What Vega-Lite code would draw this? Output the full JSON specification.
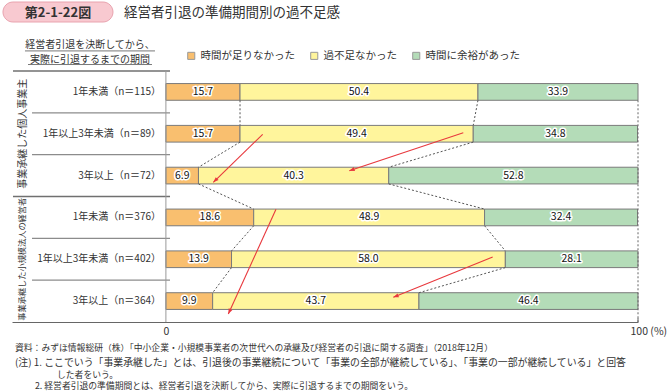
{
  "$schema": "https://vega.github.io/schema/vega-lite/v6.json",
  "width": 626,
  "height": 251,
  "autosize": {"type": "none"},
  "padding": {"left": 12, "top": 71, "right": 32, "bottom": 70},
  "background": "white",
  "config": {"font": "Noto Sans CJK JP", "view": {"stroke": null}, "scale": {"continuousPadding": 0}},
  "datasets": {
    "bars": [
      {"row": 1, "cat": "時間が足りなかった", "ord": 1, "value": 15.7},
      {"row": 1, "cat": "過不足なかった", "ord": 2, "value": 50.4},
      {"row": 1, "cat": "時間に余裕があった", "ord": 3, "value": 33.9},
      {"row": 2, "cat": "時間が足りなかった", "ord": 1, "value": 15.7},
      {"row": 2, "cat": "過不足なかった", "ord": 2, "value": 49.4},
      {"row": 2, "cat": "時間に余裕があった", "ord": 3, "value": 34.8},
      {"row": 3, "cat": "時間が足りなかった", "ord": 1, "value": 6.9},
      {"row": 3, "cat": "過不足なかった", "ord": 2, "value": 40.3},
      {"row": 3, "cat": "時間に余裕があった", "ord": 3, "value": 52.8},
      {"row": 4, "cat": "時間が足りなかった", "ord": 1, "value": 18.6},
      {"row": 4, "cat": "過不足なかった", "ord": 2, "value": 48.9},
      {"row": 4, "cat": "時間に余裕があった", "ord": 3, "value": 32.4},
      {"row": 5, "cat": "時間が足りなかった", "ord": 1, "value": 13.9},
      {"row": 5, "cat": "過不足なかった", "ord": 2, "value": 58.0},
      {"row": 5, "cat": "時間に余裕があった", "ord": 3, "value": 28.1},
      {"row": 6, "cat": "時間が足りなかった", "ord": 1, "value": 9.9},
      {"row": 6, "cat": "過不足なかった", "ord": 2, "value": 43.7},
      {"row": 6, "cat": "時間に余裕があった", "ord": 3, "value": 46.4}
    ],
    "connectors": [
      {"from": 1, "to": 2, "a": 15.7, "b": 15.7},
      {"from": 1, "to": 2, "a": 66.1, "b": 65.1},
      {"from": 2, "to": 3, "a": 15.7, "b": 6.9},
      {"from": 2, "to": 3, "a": 65.1, "b": 47.2},
      {"from": 3, "to": 4, "a": 6.9, "b": 18.6},
      {"from": 3, "to": 4, "a": 47.2, "b": 67.5},
      {"from": 4, "to": 5, "a": 18.6, "b": 13.9},
      {"from": 4, "to": 5, "a": 67.5, "b": 71.9},
      {"from": 5, "to": 6, "a": 13.9, "b": 9.9},
      {"from": 5, "to": 6, "a": 71.9, "b": 53.6}
    ],
    "arrows": [
      {"sx": 20.5, "sy": 2.013, "ex": 10.04, "ey": 3.161},
      {"sx": 62.99, "sy": 1.975, "ex": 38.85, "ey": 2.883},
      {"sx": 23.32, "sy": 3.806, "ex": 13.22, "ey": 6.309},
      {"sx": 69.22, "sy": 4.946, "ex": 48.17, "ey": 5.91}
    ],
    "rows": [
      {"row": 1, "label": "1年未満（n＝115）"},
      {"row": 2, "label": "1年以上3年未満（n＝89）"},
      {"row": 3, "label": "3年以上（n＝72）"},
      {"row": 4, "label": "1年未満（n＝376）"},
      {"row": 5, "label": "1年以上3年未満（n＝402）"},
      {"row": 6, "label": "3年以上（n＝364）"}
    ],
    "groups": [
      {"row": 2, "g": 1, "label": "事業承継した個人事業主"},
      {"row": 5, "g": 2, "label": "事業承継した小規模法人の経営者"}
    ],
    "inner": [{"r": 1.5}, {"r": 2.5}, {"r": 4.5}, {"r": 5.5}],
    "outer": [{"r": 0.5}, {"r": 3.5}],
    "one": [{"k": 1}]
  },
  "layer": [
    {
      "data": {"name": "bars"},
      "transform": [
        {"stack": "value", "groupby": ["row"], "sort": [{"field": "ord"}], "as": ["x0", "x1"]}
      ],
      "mark": {"type": "bar", "height": 16.7, "stroke": "#7a7a7a", "strokeWidth": 1},
      "encoding": {
        "x": {
          "field": "x0", "type": "quantitative",
          "scale": {"domain": [-32.6, 100], "nice": false, "zero": false, "padding": 0},
          "axis": {
            "values": [0, 100], "ticks": false, "grid": false, "title": null,
            "domainColor": "#666666", "domainWidth": 1,
            "labelExpr": "datum.value == 100 ? '100 (%)' : '0'",
            "labelFontSize": 10.5, "labelColor": "#333333", "labelPadding": 4,
            "labelFlush": false, "labelOverlap": false,
            "labelAlign": {"condition": {"test": "datum.value == 100", "value": "left"}, "value": "center"},
            "labelOffset": {"condition": {"test": "datum.value == 100", "value": -8}, "value": 0}
          }
        },
        "x2": {"field": "x1"},
        "y": {"field": "row", "type": "quantitative", "scale": {"domain": [0.5, 6.5], "reverse": true, "nice": false, "zero": false, "padding": 0}, "axis": null},
        "color": {
          "field": "cat", "type": "nominal", "sort": null,
          "scale": {"domain": ["時間が足りなかった", "過不足なかった", "時間に余裕があった"], "range": ["#f9bf6f", "#fff59c", "#b4dcb8"]},
          "legend": {
            "orient": "none", "legendX": 174, "legendY": -20.5, "direction": "horizontal",
            "title": null, "symbolType": "square", "symbolSize": 50, "symbolStrokeWidth": 1,
            "symbolStrokeColor": "#999999", "labelFontSize": 10.5, "labelColor": "#333333",
            "columnPadding": 13, "labelOffset": 4, "padding": 0
          }
        }
      }
    },
    {
      "data": {"name": "one"},
      "mark": {"type": "rect", "fill": "#f8c9d0", "stroke": "#e9a3af", "strokeWidth": 1, "cornerRadius": 10},
      "encoding": {
        "x": {"datum": -34.51, "type": "quantitative", "scale": {"domain": [-32.6, 100], "nice": false, "zero": false, "padding": 0}},
        "x2": {"datum": -11.21},
        "y": {"datum": -1.149, "type": "quantitative", "scale": {"domain": [0.5, 6.5], "reverse": true, "nice": false, "zero": false, "padding": 0}, "axis": null},
        "y2": {"datum": -0.671}
      }
    },
    {
      "data": {"name": "one"},
      "mark": {"type": "text", "text": "第2-1-22図", "fontSize": 13, "fontWeight": "bold", "color": "#333333", "align": "center", "baseline": "middle"},
      "encoding": {
        "x": {"datum": -22.86, "type": "quantitative", "scale": {"domain": [-32.6, 100], "nice": false, "zero": false, "padding": 0}},
        "y": {"datum": -0.898, "type": "quantitative", "scale": {"domain": [0.5, 6.5], "reverse": true, "nice": false, "zero": false, "padding": 0}, "axis": null}
      }
    },
    {
      "data": {"name": "one"},
      "mark": {"type": "text", "text": "経営者引退の準備期間別の過不足感", "fontSize": 13.5, "color": "#333333", "align": "left", "baseline": "middle"},
      "encoding": {
        "x": {"datum": -8.88, "type": "quantitative", "scale": {"domain": [-32.6, 100], "nice": false, "zero": false, "padding": 0}},
        "y": {"datum": -0.898, "type": "quantitative", "scale": {"domain": [0.5, 6.5], "reverse": true, "nice": false, "zero": false, "padding": 0}, "axis": null}
      }
    },
    {
      "data": {"name": "one"},
      "mark": {"type": "text", "text": "経営者引退を決断してから、", "fontSize": 10, "color": "#333333", "align": "center", "baseline": "alphabetic"},
      "encoding": {
        "x": {"datum": -16.08, "type": "quantitative", "scale": {"domain": [-32.6, 100], "nice": false, "zero": false, "padding": 0}},
        "y": {"datum": -0.05, "type": "quantitative", "scale": {"domain": [0.5, 6.5], "reverse": true, "nice": false, "zero": false, "padding": 0}, "axis": null}
      }
    },
    {
      "data": {"name": "one"},
      "mark": {"type": "text", "text": "実際に引退するまでの期間", "fontSize": 10, "color": "#333333", "align": "center", "baseline": "alphabetic"},
      "encoding": {
        "x": {"datum": -16.08, "type": "quantitative", "scale": {"domain": [-32.6, 100], "nice": false, "zero": false, "padding": 0}},
        "y": {"datum": 0.3, "type": "quantitative", "scale": {"domain": [0.5, 6.5], "reverse": true, "nice": false, "zero": false, "padding": 0}, "axis": null}
      }
    },
    {
      "data": {"name": "one"},
      "mark": {"type": "rule", "color": "#555555", "strokeWidth": 0.8},
      "encoding": {
        "x": {"datum": -29.85, "type": "quantitative", "scale": {"domain": [-32.6, 100], "nice": false, "zero": false, "padding": 0}},
        "x2": {"datum": -2.31},
        "y": {"datum": 0.02, "type": "quantitative", "scale": {"domain": [0.5, 6.5], "reverse": true, "nice": false, "zero": false, "padding": 0}, "axis": null}
      }
    },
    {
      "data": {"name": "one"},
      "mark": {"type": "rule", "color": "#555555", "strokeWidth": 0.8},
      "encoding": {
        "x": {"datum": -29.21, "type": "quantitative", "scale": {"domain": [-32.6, 100], "nice": false, "zero": false, "padding": 0}},
        "x2": {"datum": -2.95},
        "y": {"datum": 0.345, "type": "quantitative", "scale": {"domain": [0.5, 6.5], "reverse": true, "nice": false, "zero": false, "padding": 0}, "axis": null}
      }
    },
    {
      "data": {"name": "inner"},
      "mark": {"type": "rule", "color": "#8c8c8c", "strokeWidth": 1.3},
      "encoding": {
        "x": {"datum": -28.36, "type": "quantitative", "scale": {"domain": [-32.6, 100], "nice": false, "zero": false, "padding": 0}},
        "x2": {"datum": 0.87},
        "y": {"field": "r", "type": "quantitative", "scale": {"domain": [0.5, 6.5], "reverse": true, "nice": false, "zero": false, "padding": 0}, "axis": null}
      }
    },
    {
      "data": {"name": "outer"},
      "mark": {"type": "rule", "color": "#707070", "strokeWidth": 1.4},
      "encoding": {
        "x": {"datum": -32.39, "type": "quantitative", "scale": {"domain": [-32.6, 100], "nice": false, "zero": false, "padding": 0}},
        "x2": {"datum": 0.87},
        "y": {"field": "r", "type": "quantitative", "scale": {"domain": [0.5, 6.5], "reverse": true, "nice": false, "zero": false, "padding": 0}, "axis": null}
      }
    },
    {
      "data": {"name": "one"},
      "mark": {"type": "rule", "color": "#999999", "strokeWidth": 1},
      "encoding": {
        "x": {"datum": 0, "type": "quantitative", "scale": {"domain": [-32.6, 100], "nice": false, "zero": false, "padding": 0}},
        "y": {"datum": 0.5, "type": "quantitative", "scale": {"domain": [0.5, 6.5], "reverse": true, "nice": false, "zero": false, "padding": 0}, "axis": null},
        "y2": {"datum": 6.5}
      }
    },
    {
      "data": {"name": "one"},
      "mark": {"type": "rule", "color": "#666666", "strokeWidth": 1, "strokeDash": [2, 2], "yOffset": 8.35},
      "encoding": {
        "x": {"datum": 100, "type": "quantitative", "scale": {"domain": [-32.6, 100], "nice": false, "zero": false, "padding": 0}},
        "y": {"datum": 1, "type": "quantitative", "scale": {"domain": [0.5, 6.5], "reverse": true, "nice": false, "zero": false, "padding": 0}, "axis": null},
        "y2": {"datum": 6.5}
      }
    },
    {
      "data": {"name": "connectors"},
      "mark": {"type": "rule", "color": "#555555", "strokeWidth": 1, "strokeDash": [2, 2], "yOffset": 8.35, "y2Offset": -8.35},
      "encoding": {
        "x": {"field": "a", "type": "quantitative", "scale": {"domain": [-32.6, 100], "nice": false, "zero": false, "padding": 0}},
        "x2": {"field": "b"},
        "y": {"field": "from", "type": "quantitative", "scale": {"domain": [0.5, 6.5], "reverse": true, "nice": false, "zero": false, "padding": 0}, "axis": null},
        "y2": {"field": "to"}
      }
    },
    {
      "data": {"name": "bars"},
      "transform": [
        {"stack": "value", "groupby": ["row"], "sort": [{"field": "ord"}], "as": ["x0", "x1"]},
        {"calculate": "(datum.x0 + datum.x1) / 2", "as": "mid"}
      ],
      "mark": {"type": "text", "fontSize": 10.5, "stroke": "white", "strokeWidth": 3, "strokeJoin": "round", "color": "white", "align": "center", "baseline": "middle"},
      "encoding": {
        "x": {"field": "mid", "type": "quantitative", "scale": {"domain": [-32.6, 100], "nice": false, "zero": false, "padding": 0}},
        "y": {"field": "row", "type": "quantitative", "scale": {"domain": [0.5, 6.5], "reverse": true, "nice": false, "zero": false, "padding": 0}, "axis": null},
        "text": {"field": "value", "type": "quantitative", "format": ".1f"}
      }
    },
    {
      "data": {"name": "bars"},
      "transform": [
        {"stack": "value", "groupby": ["row"], "sort": [{"field": "ord"}], "as": ["x0", "x1"]},
        {"calculate": "(datum.x0 + datum.x1) / 2", "as": "mid"}
      ],
      "mark": {"type": "text", "fontSize": 10.5, "color": "#111111", "align": "center", "baseline": "middle"},
      "encoding": {
        "x": {"field": "mid", "type": "quantitative", "scale": {"domain": [-32.6, 100], "nice": false, "zero": false, "padding": 0}},
        "y": {"field": "row", "type": "quantitative", "scale": {"domain": [0.5, 6.5], "reverse": true, "nice": false, "zero": false, "padding": 0}, "axis": null},
        "text": {"field": "value", "type": "quantitative", "format": ".1f"}
      }
    },
    {
      "data": {"name": "rows"},
      "mark": {"type": "text", "fontSize": 10, "color": "#333333", "align": "right", "baseline": "middle"},
      "encoding": {
        "x": {"datum": -1.04, "type": "quantitative", "scale": {"domain": [-32.6, 100], "nice": false, "zero": false, "padding": 0}},
        "y": {"field": "row", "type": "quantitative", "scale": {"domain": [0.5, 6.5], "reverse": true, "nice": false, "zero": false, "padding": 0}, "axis": null},
        "text": {"field": "label"}
      }
    },
    {
      "data": {"name": "groups"},
      "mark": {"type": "text", "angle": 270, "color": "#333333", "align": "center", "baseline": "middle"},
      "encoding": {
        "x": {"datum": -30.27, "type": "quantitative", "scale": {"domain": [-32.6, 100], "nice": false, "zero": false, "padding": 0}},
        "y": {"field": "row", "type": "quantitative", "scale": {"domain": [0.5, 6.5], "reverse": true, "nice": false, "zero": false, "padding": 0}, "axis": null},
        "text": {"field": "label"},
        "size": {"condition": {"test": "datum.g == 2", "value": 8.2}, "value": 10}
      }
    },
    {
      "data": {"name": "arrows"},
      "mark": {"type": "rule", "color": "#e8383d", "strokeWidth": 1.1},
      "encoding": {
        "x": {"field": "sx", "type": "quantitative", "scale": {"domain": [-32.6, 100], "nice": false, "zero": false, "padding": 0}},
        "x2": {"field": "ex"},
        "y": {"field": "sy", "type": "quantitative", "scale": {"domain": [0.5, 6.5], "reverse": true, "nice": false, "zero": false, "padding": 0}, "axis": null},
        "y2": {"field": "ey"}
      }
    },
    {
      "data": {"name": "arrows"},
      "transform": [
        {"calculate": "atan2((datum.ex - datum.sx) * 4.721, -(datum.ey - datum.sy) * 41.833) * 180 / PI", "as": "ang"}
      ],
      "mark": {"type": "point", "shape": "M0,0L0.9,2.4L-0.9,2.4Z", "filled": true, "color": "#e8383d", "size": 20, "opacity": 1, "strokeWidth": 0},
      "encoding": {
        "x": {"field": "ex", "type": "quantitative", "scale": {"domain": [-32.6, 100], "nice": false, "zero": false, "padding": 0}},
        "y": {"field": "ey", "type": "quantitative", "scale": {"domain": [0.5, 6.5], "reverse": true, "nice": false, "zero": false, "padding": 0}, "axis": null},
        "angle": {"field": "ang", "type": "quantitative", "scale": null}
      }
    },
    {
      "data": {"name": "one"},
      "mark": {"type": "rule", "color": "#666666", "strokeWidth": 1, "y2Offset": -4},
      "encoding": {
        "x": {"datum": 100, "type": "quantitative", "scale": {"domain": [-32.6, 100], "nice": false, "zero": false, "padding": 0}},
        "y": {"datum": 6.5, "type": "quantitative", "scale": {"domain": [0.5, 6.5], "reverse": true, "nice": false, "zero": false, "padding": 0}, "axis": null},
        "y2": {"datum": 6.5}
      }
    },
    {
      "data": {"name": "one"},
      "mark": {"type": "text", "text": "資料：みずほ情報総研（株）「中小企業・小規模事業者の次世代への承継及び経営者の引退に関する調査」（2018年12月）", "fontSize": 8.8, "color": "#333333", "align": "left", "baseline": "middle"},
      "encoding": {
        "x": {"datum": -31.96, "type": "quantitative", "scale": {"domain": [-32.6, 100], "nice": false, "zero": false, "padding": 0}},
        "y": {"datum": 7.12, "type": "quantitative", "scale": {"domain": [0.5, 6.5], "reverse": true, "nice": false, "zero": false, "padding": 0}, "axis": null}
      }
    },
    {
      "data": {"name": "one"},
      "mark": {"type": "text", "text": "(注) 1. ここでいう「事業承継した」とは、引退後の事業継続について「事業の全部が継続している」、「事業の一部が継続している」と回答", "fontSize": 9.9, "color": "#333333", "align": "left", "baseline": "middle"},
      "encoding": {
        "x": {"datum": -31.96, "type": "quantitative", "scale": {"domain": [-32.6, 100], "nice": false, "zero": false, "padding": 0}},
        "y": {"datum": 7.475, "type": "quantitative", "scale": {"domain": [0.5, 6.5], "reverse": true, "nice": false, "zero": false, "padding": 0}, "axis": null}
      }
    },
    {
      "data": {"name": "one"},
      "mark": {"type": "text", "text": "した者をいう。", "fontSize": 8.8, "color": "#333333", "align": "left", "baseline": "middle"},
      "encoding": {
        "x": {"datum": -23.07, "type": "quantitative", "scale": {"domain": [-32.6, 100], "nice": false, "zero": false, "padding": 0}},
        "y": {"datum": 7.76, "type": "quantitative", "scale": {"domain": [0.5, 6.5], "reverse": true, "nice": false, "zero": false, "padding": 0}, "axis": null}
      }
    },
    {
      "data": {"name": "one"},
      "mark": {"type": "text", "text": "2. 経営者引退の準備期間とは、経営者引退を決断してから、実際に引退するまでの期間をいう。", "fontSize": 8.8, "color": "#333333", "align": "left", "baseline": "middle"},
      "encoding": {
        "x": {"datum": -27.73, "type": "quantitative", "scale": {"domain": [-32.6, 100], "nice": false, "zero": false, "padding": 0}},
        "y": {"datum": 8.04, "type": "quantitative", "scale": {"domain": [0.5, 6.5], "reverse": true, "nice": false, "zero": false, "padding": 0}, "axis": null}
      }
    }
  ]
}
